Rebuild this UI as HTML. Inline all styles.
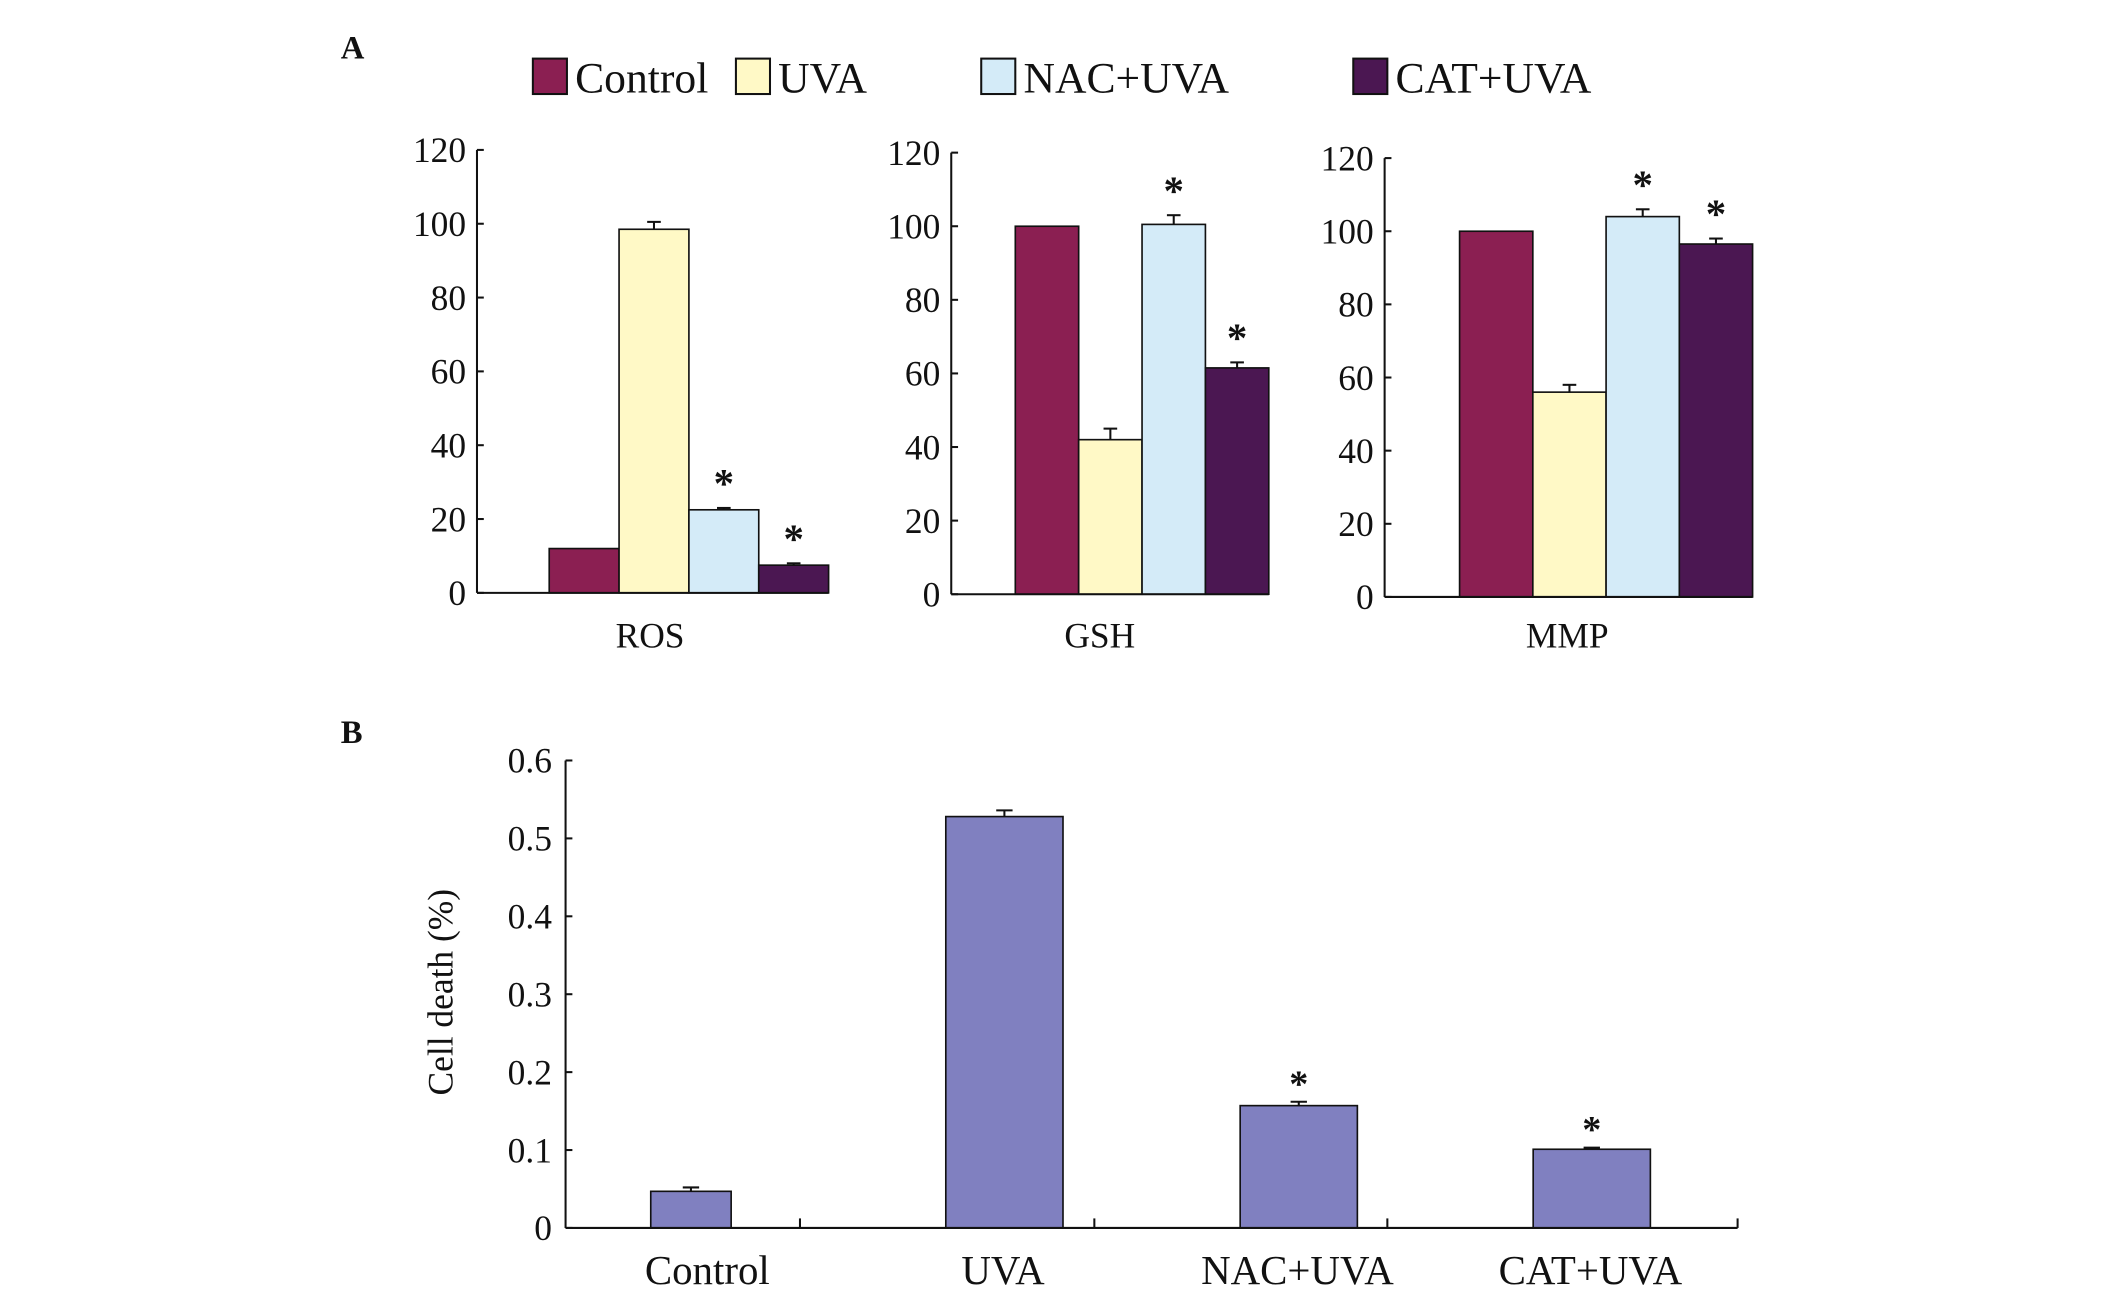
<!DOCTYPE html>
<html><head><meta charset="utf-8"><style>
html,body{margin:0;padding:0;background:#fff;}
svg{display:block;}
text{font-family:"Liberation Serif",serif;fill:#111;}
</style></head><body>
<svg id="fig" width="2126" height="1301" viewBox="0 0 1560 954.6" preserveAspectRatio="none" xmlns="http://www.w3.org/2000/svg">
<text x="250" y="43" font-size="24" font-weight="bold">A</text>
<text x="250" y="545" font-size="24" font-weight="bold">B</text>
<g id="legend"></g>
<g id="pa"></g>
<g id="pb"></g>
</svg>
<script>
const groups = ["Control","UVA","NAC+UVA","CAT+UVA"];
const colors = ["#8b1f52","#fff9c6","#d4ebf8","#4b1752"];
const rosVals = [12, 98.5, 22.5, 7.5];
const rosErr = [0, 2, 0.5, 0.5];
const gshVals = [100, 42, 100.5, 61.5];
const gshErr = [0, 3, 2.5, 1.5];
const mmpVals = [100, 56, 104, 96.5];
const mmpErr = [0, 2, 2, 1.5];
const aStars = [[false,false,true,true],[false,false,true,true],[false,false,true,true]];
const aTicks = [0,20,40,60,80,100,120];
const deathVals = [0.047, 0.528, 0.157, 0.101];
const deathErr = [0.005, 0.008, 0.005, 0.002];
const deathStars = [false,false,true,true];
const bTicks = ["0","0.1","0.2","0.3","0.4","0.5","0.6"];
const NS="http://www.w3.org/2000/svg";
function mk(tag, attrs, parent, txt){const e=document.createElementNS(NS,tag);for(const k in attrs)e.setAttribute(k,attrs[k]);if(txt!==undefined)e.textContent=txt;parent.appendChild(e);return e;}

const leg=document.getElementById('legend');
const legX=[391,540,720,993];
groups.forEach((g,i)=>{
  const r=mk('rect',{x:legX[i],y:43,width:25,height:26,fill:colors[i],stroke:'#111','stroke-width':1.5},leg);
  
  
  const t=mk('text',{x:legX[i]+31,y:68,'font-size':32},leg,g);
  
  
});

const pa=document.getElementById('pa');
const panels=[
 {name:'ros',label:'ROS',vals:rosVals,err:rosErr,ax:350,y0:435,y120:110,x0:403,x1:608,lx:477},
 {name:'gsh',label:'GSH',vals:gshVals,err:gshErr,ax:698,y0:436,y120:112,x0:745,x1:931,lx:807},
 {name:'mmp',label:'MMP',vals:mmpVals,err:mmpErr,ax:1016,y0:438,y120:116,x0:1071,x1:1286,lx:1150}
];
panels.forEach((p,pi)=>{
  const g=mk('g',{},pa);
  
  
  const y=v=>p.y0-(v/120)*(p.y0-p.y120);
  const bw=(p.x1-p.x0)/4;
  p.vals.forEach((v,i)=>{
    const bx=p.x0+i*bw;
    const r=mk('rect',{x:bx,y:y(v),width:bw,height:p.y0-y(v),fill:colors[i],stroke:'#111','stroke-width':1.2},g);
    
    
    if(p.err[i]>0){
      const cx=bx+bw/2, ye=y(v+p.err[i]);
      mk('line',{x1:cx,x2:cx,y1:y(v),y2:ye,stroke:'#111','stroke-width':1.5},g);
      mk('line',{x1:cx-5,x2:cx+5,y1:ye,y2:ye,stroke:'#111','stroke-width':1.5},g);
    }
    if(aStars[pi][i]){
      const s=mk('text',{x:bx+bw/2,y:y(v+p.err[i])-8,'font-size':30,'font-weight':'bold','text-anchor':'middle'},g,'*');
      
      
    }
  });
  mk('line',{x1:p.ax,x2:p.ax,y1:p.y120,y2:p.y0,stroke:'#111','stroke-width':1.5},g);
  mk('line',{x1:p.ax,x2:p.x1,y1:p.y0,y2:p.y0,stroke:'#111','stroke-width':1.5},g);
  aTicks.forEach(t=>{
    mk('line',{x1:p.ax,x2:p.ax+5,y1:y(t),y2:y(t),stroke:'#111','stroke-width':1.5},g);
    const tl=mk('text',{x:p.ax-8,y:y(t)+9,'font-size':26,'text-anchor':'end'},g,String(t));
    
    
  });
  const xl=mk('text',{x:p.lx,y:475,'font-size':26,'text-anchor':'middle'},g,p.label);
  
  
});

const pb=document.getElementById('pb');
const ax=415,y0=901,ytop=558,xend=1275;
const yb=v=>y0-(v/0.6)*(y0-ytop);
const bcx=[507,737,953,1168], bw2=[59,86,86,86];
deathVals.forEach((v,i)=>{
  const r=mk('rect',{x:bcx[i]-bw2[i]/2,y:yb(v),width:bw2[i],height:y0-yb(v),fill:'#8080c0',stroke:'#111','stroke-width':1.2},pb);
  
  
  const ye=yb(v+deathErr[i]);
  mk('line',{x1:bcx[i],x2:bcx[i],y1:yb(v),y2:ye,stroke:'#111','stroke-width':1.5},pb);
  mk('line',{x1:bcx[i]-6,x2:bcx[i]+6,y1:ye,y2:ye,stroke:'#111','stroke-width':1.5},pb);
  if(deathStars[i]){
    const s=mk('text',{x:bcx[i],y:ye-4,'font-size':28,'font-weight':'bold','text-anchor':'middle'},pb,'*');
    
    
  }
});
mk('line',{x1:ax,x2:ax,y1:ytop,y2:y0,stroke:'#111','stroke-width':1.5},pb);
mk('line',{x1:ax,x2:xend,y1:y0,y2:y0,stroke:'#111','stroke-width':1.5},pb);
[587,803,1018,xend].forEach(x=>mk('line',{x1:x,x2:x,y1:y0-7,y2:y0,stroke:'#111','stroke-width':1.5},pb));
bTicks.forEach(t=>{
  const v=parseFloat(t);
  mk('line',{x1:ax,x2:ax+5,y1:yb(v),y2:yb(v),stroke:'#111','stroke-width':1.5},pb);
  const tl=mk('text',{x:ax-10,y:yb(v)+9,'font-size':26,'text-anchor':'end'},pb,t);
  
  
});
const catCx=[519,736,952,1167];
groups.forEach((g,i)=>{
  const t=mk('text',{x:catCx[i],y:942,'font-size':30,'text-anchor':'middle'},pb,g);
  
  
});
const yt=mk('text',{x:0,y:0,'font-size':26,'text-anchor':'middle',transform:'translate(332,728) rotate(-90)'},pb,'Cell death (%)');


</script>
</body></html>
